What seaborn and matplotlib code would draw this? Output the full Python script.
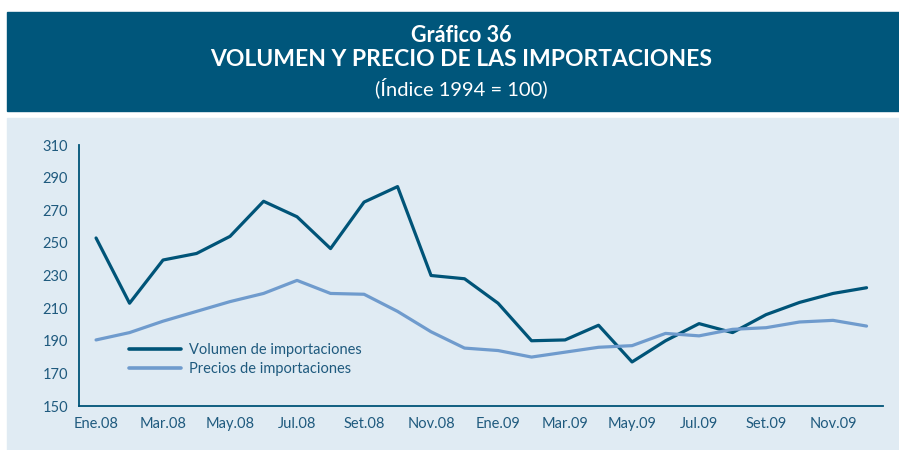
import numpy as np
import pandas as pd
import matplotlib
matplotlib.use("Agg")
import matplotlib.pyplot as plt
import seaborn as sns
from matplotlib.patches import Rectangle

# data (index 1994 = 100)
months = ["Ene.08", "Feb.08", "Mar.08", "Abr.08", "May.08", "Jun.08",
          "Jul.08", "Ago.08", "Set.08", "Oct.08", "Nov.08", "Dic.08",
          "Ene.09", "Feb.09", "Mar.09", "Abr.09", "May.09", "Jun.09",
          "Jul.09", "Ago.09", "Set.09", "Oct.09", "Nov.09", "Dic.09"]
volumen = [253, 213, 239.5, 243.5, 254, 275.5, 266, 246.5, 275, 284.5, 230, 228,
           213, 190, 190.5, 199.5, 177, 190, 200.5, 195, 206, 213.5, 219, 222.5]
precios = [190.5, 195, 202, 208, 214, 219, 227, 219, 218.5, 208, 195.5, 185.5,
           184, 180, 183, 186, 187, 194.5, 193, 197, 198, 201.5, 202.5, 199]

df = pd.DataFrame({"mes": months, "Volumen de importaciones": volumen,
                   "Precios de importaciones": precios})
df["x"] = np.arange(len(months))
long = df.melt(id_vars=["mes", "x"], var_name="serie", value_name="indice")

sns.set_style("white")
plt.rcParams["font.family"] = ["Lato", "DejaVu Sans"]

dark = "#005478"
light = "#6f9bcd"
panel = "#e0ebf3"
txt = "#1f5a7e"

fig = plt.figure(figsize=(8.99, 4.5), dpi=100)
fig.patch.set_facecolor("white")

# title band and chart panel (behind the axes)
fig.patches.append(Rectangle((7 / 899, 1 - 110.5 / 450), 892 / 899, 98.5 / 450,
                             transform=fig.transFigure, color="#00567b", zorder=-2))
fig.patches.append(Rectangle((7 / 899, 0), 892 / 899, 1 - 117.5 / 450,
                             transform=fig.transFigure, color=panel, zorder=-2))

fig.text(0.513, 1 - 36 / 450, "Gráfico 36", ha="center", va="center", color="white",
         fontsize=15.5, fontweight="bold")
fig.text(0.513, 1 - 60 / 450, "VOLUMEN Y PRECIO DE LAS IMPORTACIONES", ha="center",
         va="center", color="white", fontsize=16.5, fontweight="bold")
fig.text(0.513, 1 - 88 / 450, "(Índice 1994 = 100)", ha="center", va="center",
         color="white", fontsize=14.5)

ax = fig.add_axes([79.3 / 899, 1 - 406 / 450, (883.3 - 79.3) / 899, (406 - 145) / 450])
ax.set_facecolor("none")
ax.set_zorder(2)

sns.lineplot(data=long, x="x", y="indice", hue="serie", palette=[dark, light],
             linewidth=2.3, ax=ax, legend=False)

ax.set_xlim(-0.5, len(months) - 0.5)
ax.set_ylim(150, 310)
ax.set_yticks(np.arange(150, 311, 20))
ax.set_xticks(np.arange(-0.5, len(months), 1), minor=False)
ax.set_xticklabels([])
ax.set_xticks(df["x"][::2], minor=True)
ax.set_xticklabels(df["mes"][::2], minor=True)
ax.tick_params(axis="x", which="major", length=5, width=1.3, color=dark, direction="out")
ax.tick_params(axis="x", which="minor", length=0, pad=8, labelsize=10.5, labelcolor=txt)
ax.tick_params(axis="y", length=5, width=1.3, color=dark, labelsize=10.5, labelcolor=txt, pad=3)
ax.set_xlabel("")
ax.set_ylabel("")
for s in ["top", "right"]:
    ax.spines[s].set_visible(False)
for s in ["left", "bottom"]:
    ax.spines[s].set_color(dark)
    ax.spines[s].set_linewidth(1.3)

# legend
handles = [plt.Line2D([], [], color=dark, lw=2.6), plt.Line2D([], [], color=light, lw=2.6)]
leg = ax.legend(handles, ["Volumen de importaciones", "Precios de importaciones"],
                loc="upper left", bbox_to_anchor=(0.0615, 0.241), frameon=False,
                fontsize=10.5, handlelength=3.6, handletextpad=0.5, labelspacing=0.32,
                borderaxespad=0, borderpad=0)
for t in leg.get_texts():
    t.set_color(txt)

fig.savefig("out.png", dpi=100, facecolor="white")
